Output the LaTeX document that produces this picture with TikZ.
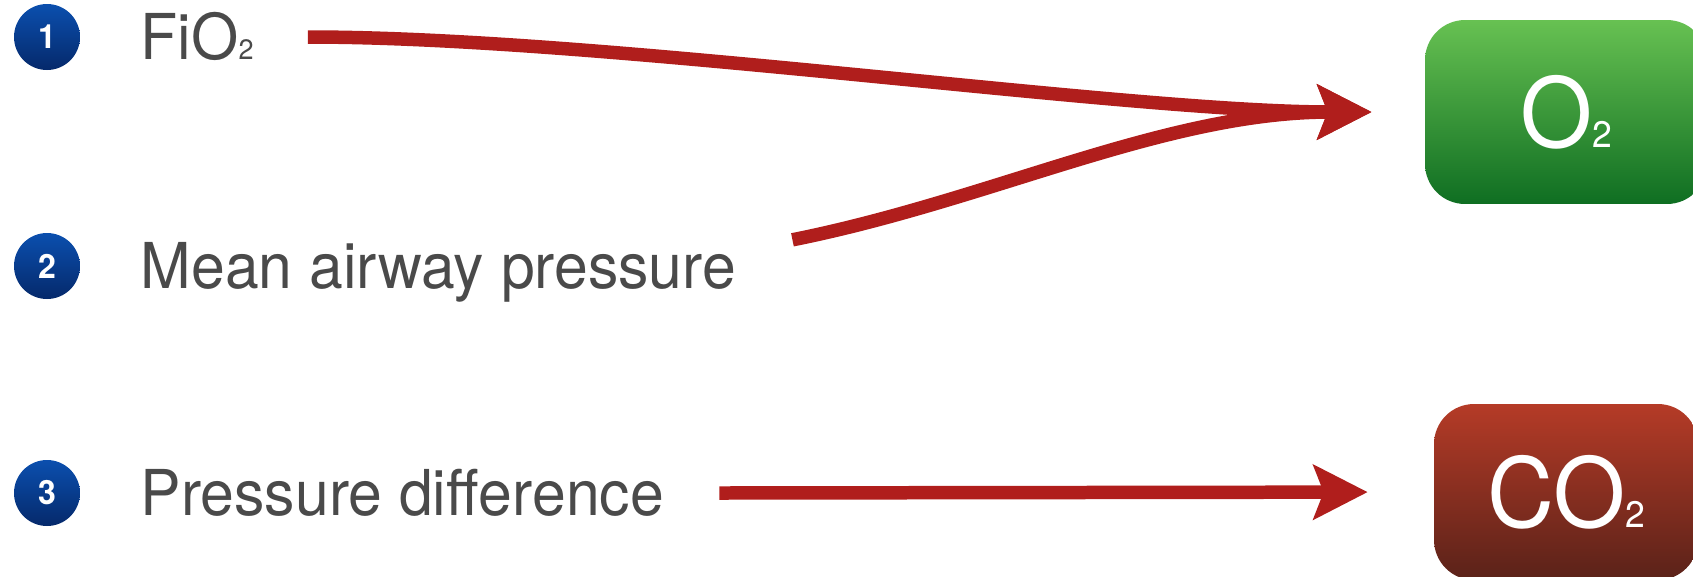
\documentclass[tikz,border=0pt]{standalone}
\usepackage{fontspec}
\setmainfont{TeX Gyre Heros}[FakeStretch=0.96]
\usetikzlibrary{arrows.meta,positioning}
\definecolor{txtgray}{HTML}{4A4A4A}
\definecolor{arrowred}{HTML}{B01E1C}
\definecolor{dotblue}{HTML}{0B4FAE}
\definecolor{dotnavy}{HTML}{05296B}
\definecolor{otop}{HTML}{67C152}
\definecolor{obot}{HTML}{0F6E22}
\definecolor{cotop}{HTML}{B53B27}
\definecolor{cobot}{HTML}{5A2219}

\begin{document}
\begin{tikzpicture}[x=0.02cm,y=-0.02cm,node distance=1.2cm,
  numdot/.style={circle,minimum size=1.32cm,inner sep=0pt,top color=dotblue,bottom color=dotnavy,
                 text=white,font=\fontsize{19pt}{19pt}\selectfont\bfseries},
  factor/.style={inner sep=0pt,text height=26pt,text depth=0pt,text=txtgray,
                 font=\fontsize{36pt}{36pt}\selectfont},
  gasbox/.style={rectangle,rounded corners=0.8cm,inner sep=0pt,text=white,
                 font=\fontsize{55pt}{55pt}\selectfont},
  flow/.style={draw=arrowred,line width=0.27cm,-{Stealth[length=1.08cm,width=1.08cm,inset=0.2cm]}}]
\useasboundingbox (0,0) rectangle (1693,576);
\clip (0,0) rectangle (1693,576);
\node[numdot] (n1) at (47,37) {1};
\node[numdot] (n2) at (47,266) {2};
\node[numdot] (n3) at (47,493) {3};
\node[factor,right=of n1] (fio) {FiO{\fontsize{16pt}{16pt}\selectfont 2}};
\node[factor,right=of n2] (mean) {Mean airway pressure};
\node[factor,right=of n3] (press) {Pressure difference};
\node[gasbox,top color=otop,bottom color=obot,minimum width=5.64cm,minimum height=3.68cm]
  (o2) at (1566,112) {O{\fontsize{21pt}{21pt}\selectfont 2}};
\node[gasbox,top color=cotop,bottom color=cobot,minimum width=5.28cm,minimum height=3.52cm]
  (co2) at (1566,492) {CO{\fontsize{21pt}{21pt}\selectfont 2}};
% inputs to the gases
\draw[flow,shorten >=1.06cm] ([xshift=1.08cm]fio.east) .. controls +(300,0) and +(-300,0) .. (o2.west);
\draw[flow,shorten >=1.06cm] ([shift={(1.12cm,0.06cm)}]mean.north east) .. controls +(200,-40) and +(-260,0) .. (o2.west);
\draw[flow,shorten >=1.32cm] ([xshift=1.1cm]press.east) -- (co2.west);
\end{tikzpicture}
\end{document}
